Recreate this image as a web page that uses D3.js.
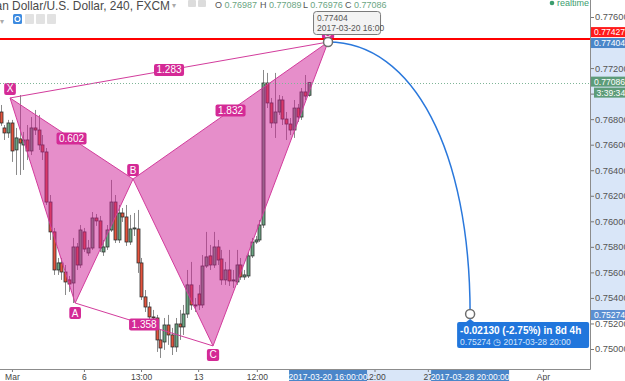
<!DOCTYPE html>
<html>
<head>
<meta charset="utf-8">
<script src="https://cdn.jsdelivr.net/npm/d3@7"></script>
<style>
  body { margin: 0; background: #fff; overflow: hidden; }
  svg { display: block; font-family: "Liberation Sans", Arial, sans-serif; }
</style>
</head>
<body>
<div id="chart"></div>
<script>
// Data: AUD/USD 4h candles [open, high, low, close]
const candles = [
  [0.76856, 0.76911, 0.76747, 0.76770],
  [0.76731, 0.76754, 0.76637, 0.76692],
  [0.76692, 0.76794, 0.76653, 0.76770],
  [0.76770, 0.76794, 0.76465, 0.76551],
  [0.76559, 0.76731, 0.76363, 0.76653],
  [0.76645, 0.76989, 0.76363, 0.76613],
  [0.76598, 0.76700, 0.76402, 0.76637],
  [0.76637, 0.76754, 0.76480, 0.76551],
  [0.76551, 0.76817, 0.76519, 0.76731],
  [0.76731, 0.76872, 0.76676, 0.76715],
  [0.76715, 0.76833, 0.76559, 0.76598],
  [0.76598, 0.76676, 0.76480, 0.76543],
  [0.76543, 0.76574, 0.76128, 0.76151],
  [0.76151, 0.76206, 0.75854, 0.75917],
  [0.75917, 0.75948, 0.75580, 0.75619],
  [0.75619, 0.75713, 0.75580, 0.75674],
  [0.75674, 0.75713, 0.75541, 0.75603],
  [0.75603, 0.75658, 0.75423, 0.75525],
  [0.75541, 0.75572, 0.75447, 0.75509],
  [0.75517, 0.75870, 0.75360, 0.75799],
  [0.75799, 0.75830, 0.75619, 0.75658],
  [0.75658, 0.75971, 0.75635, 0.75932],
  [0.75917, 0.75948, 0.75760, 0.75783],
  [0.75752, 0.75854, 0.75729, 0.75791],
  [0.75791, 0.76073, 0.75776, 0.76026],
  [0.76026, 0.76057, 0.75964, 0.76003],
  [0.76003, 0.76042, 0.75760, 0.75791],
  [0.75760, 0.75854, 0.75729, 0.75799],
  [0.75799, 0.75971, 0.75776, 0.75932],
  [0.75932, 0.76324, 0.75917, 0.76151],
  [0.76151, 0.76206, 0.75830, 0.75854],
  [0.75854, 0.76128, 0.75830, 0.76065],
  [0.76065, 0.76104, 0.75995, 0.76034],
  [0.76034, 0.76128, 0.75807, 0.75838],
  [0.75838, 0.76050, 0.75815, 0.75940],
  [0.75940, 0.76065, 0.75885, 0.75948],
  [0.75940, 0.76089, 0.75596, 0.75674],
  [0.75674, 0.75713, 0.75384, 0.75408],
  [0.75408, 0.75462, 0.75290, 0.75329],
  [0.75329, 0.75368, 0.75212, 0.75251],
  [0.75251, 0.75306, 0.75196, 0.75243],
  [0.75243, 0.75267, 0.74977, 0.75071],
  [0.75071, 0.75149, 0.74930, 0.75008],
  [0.75055, 0.75243, 0.74993, 0.75188],
  [0.75188, 0.75267, 0.75032, 0.75110],
  [0.75110, 0.75165, 0.74953, 0.75016],
  [0.75016, 0.75243, 0.74977, 0.75196],
  [0.75196, 0.75306, 0.75071, 0.75173],
  [0.75173, 0.75345, 0.75110, 0.75274],
  [0.75274, 0.75619, 0.75243, 0.75502],
  [0.75502, 0.75682, 0.75306, 0.75345],
  [0.75345, 0.75400, 0.75290, 0.75337],
  [0.75431, 0.75502, 0.75306, 0.75345],
  [0.75345, 0.75736, 0.75321, 0.75650],
  [0.75650, 0.75917, 0.75635, 0.75721],
  [0.75729, 0.75815, 0.75619, 0.75658],
  [0.75658, 0.75917, 0.75635, 0.75799],
  [0.75799, 0.75854, 0.75658, 0.75697],
  [0.75705, 0.75776, 0.75502, 0.75541],
  [0.75541, 0.75682, 0.75502, 0.75619],
  [0.75619, 0.75776, 0.75494, 0.75533],
  [0.75533, 0.75619, 0.75478, 0.75541],
  [0.75525, 0.75776, 0.75502, 0.75658],
  [0.75658, 0.75713, 0.75541, 0.75564],
  [0.75564, 0.75619, 0.75541, 0.75580],
  [0.75572, 0.75760, 0.75556, 0.75729],
  [0.75729, 0.75870, 0.75713, 0.75838],
  [0.75838, 0.75885, 0.75823, 0.75854],
  [0.75854, 0.76010, 0.75838, 0.75971],
  [0.75971, 0.77185, 0.75948, 0.77083],
  [0.77083, 0.77162, 0.76887, 0.76927],
  [0.76927, 0.76966, 0.76731, 0.76770],
  [0.76770, 0.77162, 0.76653, 0.76856],
  [0.76856, 0.76989, 0.76833, 0.76950],
  [0.76950, 0.76981, 0.76754, 0.76801],
  [0.76801, 0.76856, 0.76637, 0.76762],
  [0.76762, 0.76809, 0.76676, 0.76715],
  [0.76715, 0.76950, 0.76653, 0.76887],
  [0.76887, 0.76919, 0.76778, 0.76817],
  [0.76817, 0.77044, 0.76794, 0.77013],
  [0.77013, 0.77146, 0.76950, 0.76981],
  [0.76987, 0.77089, 0.76976, 0.77086]
];

const priceTicks = [0.750, 0.752, 0.754, 0.756, 0.758, 0.760, 0.762, 0.764, 0.766, 0.768, 0.770, 0.772, 0.774, 0.776];
const timeTickBars = [3.0, 21.9, 36.9, 51.9, 67.3, 82.0, 98.2, 112.2, 142.4];
const timeTickLabels = ["Mar", "6", "13:00", "13", "12:00", "20", "12:00", "27", "Apr"];

// XABCD pattern
const patternNames = ["X", "A", "B", "C", "D"];
const patternBars = [2.5, 19.6, 34.8, 55.8, 86.0];
const patternPrices = [0.76966, 0.75360, 0.76331, 0.75024, 0.77404];
const ratioLegs = [[0, 2], [0, 4], [2, 4], [1, 3]];
const ratioTexts = ["0.602", "1.283", "1.832", "1.358"];

// levels and forecast
const stopPrice = 0.77427;
const lastPrice = 0.77086;
const countdown = "3:39:34";
const targetBar = 123.3;
const targetPrice = 0.75274;
const startDate = "2017-03-20 16:00:00";
const targetDate = "2017-03-28 20:00:00";
const forecastText = "-0.02130 (-2.75%) in 8d 4h";
const forecastSub = "0.75274 \u25F7 2017-03-28  20:00";
const tooltipLines = ["0.77404", "2017-03-20 16:00"];

const header = "Australian Dollar/U.S. Dollar, 240, FXCM";
const ohlcKeys = ["O", "H", "L", "C"];
const ohlcVals = ["0.76987", "0.77089", "0.76976", "0.77086"];

// Dimensions
const dims = { width: 625, height: 381, plotRight: 590, plotBottom: 369 };

const svg = d3.select("#chart").append("svg")
  .attr("width", dims.width)
  .attr("height", dims.height);

const xScale = d3.scaleLinear().domain([0, 81]).range([0.5, 309]);
const yScale = d3.scaleLinear().domain([0.750, 0.776]).range([349, 17]);

svg.append("defs").append("clipPath").attr("id", "plotclip")
  .append("rect").attr("width", dims.plotRight).attr("height", dims.plotBottom);

const plot = svg.append("g").attr("clip-path", "url(#plotclip)");

// Candles
const green = "#6ba583", red = "#e5533c";
const cg = plot.append("g");
cg.selectAll("line").data(candles).join("line")
  .attr("x1", (d, i) => Math.round(xScale(i)) + 0.5)
  .attr("x2", (d, i) => Math.round(xScale(i)) + 0.5)
  .attr("y1", d => yScale(d[1]))
  .attr("y2", d => yScale(d[2]))
  .attr("stroke", "#8a8a8a");
cg.selectAll("rect").data(candles).join("rect")
  .attr("x", (d, i) => Math.round(xScale(i)) - 1)
  .attr("width", 3)
  .attr("y", d => yScale(Math.max(d[0], d[3])))
  .attr("height", d => Math.max(1, Math.abs(yScale(d[0]) - yScale(d[3]))))
  .attr("fill", d => d[3] >= d[0] ? green : red)
  .attr("stroke", "#2e2e2e")
  .attr("stroke-width", 0.8);

// Pattern
const pts = patternNames.map((n, i) => [xScale(patternBars[i]), yScale(patternPrices[i])]);
const pink = "#d23c9c";
plot.selectAll("polygon").data([[0, 1, 2], [2, 3, 4]]).join("polygon")
  .attr("points", d => d.map(k => pts[k].join(",")).join(" "))
  .attr("fill", "rgba(205,30,150,0.5)")
  .attr("stroke", pink)
  .attr("stroke-width", 1);
plot.selectAll("line.leg").data([[0, 4], [1, 3]]).join("line")
  .attr("class", "leg")
  .attr("x1", d => pts[d[0]][0]).attr("y1", d => pts[d[0]][1])
  .attr("x2", d => pts[d[1]][0]).attr("y2", d => pts[d[1]][1])
  .attr("stroke", pink).attr("stroke-width", 1);

function pinkLabel(g, x, y, text) {
  const t = g.append("text").attr("x", x).attr("y", y + 3.5)
    .attr("text-anchor", "middle").attr("font-size", 10).attr("fill", "#fff").text(text);
  const w = t.node().getComputedTextLength() + 5;
  g.insert("rect", "text:last-child").attr("x", x - w / 2).attr("y", y - 6)
    .attr("width", w).attr("height", 12).attr("rx", 2).attr("fill", "#d42a96");
}
ratioLegs.forEach((leg, i) => {
  const g = plot.append("g");
  pinkLabel(g, (pts[leg[0]][0] + pts[leg[1]][0]) / 2, (pts[leg[0]][1] + pts[leg[1]][1]) / 2, ratioTexts[i]);
});
const labelOffsets = [-9, 10, -9, 9, -9];
patternNames.forEach((n, i) => {
  pinkLabel(plot.append("g"), pts[i][0], pts[i][1] + labelOffsets[i], n);
});

// Last price line (dotted)
plot.append("line").attr("x1", 0).attr("x2", dims.plotRight)
  .attr("y1", Math.round(yScale(lastPrice)) + 0.5).attr("y2", Math.round(yScale(lastPrice)) + 0.5)
  .attr("stroke", "#7fb597").attr("stroke-dasharray", "1,2");

// Red stop line
plot.append("line").attr("x1", 0).attr("x2", dims.plotRight)
  .attr("y1", yScale(stopPrice)).attr("y2", yScale(stopPrice))
  .attr("stroke", "#ff0000").attr("stroke-width", 2);

// Forecast curve
const dx = xScale(targetBar), dy = yScale(targetPrice);
const [sx, sy] = pts[4];
plot.append("path")
  .attr("d", `M${sx},${sy} C${sx + (dx - sx) * 0.6},${sy} ${dx},${sy + (dy - sy) * 0.4} ${dx},${dy}`)
  .attr("fill", "none").attr("stroke", "#2a78dc").attr("stroke-width", 1.5);

plot.selectAll("circle").data([[sx, sy], [dx, dy]]).join("circle")
  .attr("cx", d => d[0]).attr("cy", d => d[1]).attr("r", 4.5)
  .attr("fill", "#fff").attr("stroke", "#6e6e6e").attr("stroke-width", 1.5);

// Forecast box
const fb = plot.append("g");
fb.append("rect").attr("x", dx - 13).attr("y", dy + 8).attr("width", 132).attr("height", 26)
  .attr("rx", 2).attr("fill", "#2176dc");
fb.append("path").attr("d", `M${dx - 4},${dy + 8} L${dx},${dy + 5} L${dx + 4},${dy + 8}Z`).attr("fill", "#2176dc");
fb.append("text").attr("x", dx - 10).attr("y", dy + 20).attr("font-size", 10).attr("font-weight", "bold")
  .attr("fill", "#fff").text(forecastText);
fb.append("text").attr("x", dx - 10).attr("y", dy + 31).attr("font-size", 8.5)
  .attr("fill", "#d6e6fb").text(forecastSub);

// Tooltip at D
const tt = svg.append("g");
tt.append("rect").attr("x", sx - 14.5).attr("y", 11.5).attr("width", 67).attr("height", 23).attr("rx", 3)
  .attr("fill", "#f3f3f3").attr("stroke", "#7a7a7a");
tt.selectAll("text").data(tooltipLines).join("text")
  .attr("x", sx - 11).attr("y", (d, i) => 20.5 + i * 10)
  .attr("font-size", 8.5).attr("fill", "#555").text(d => d);

// Axis backgrounds
svg.append("rect").attr("x", dims.plotRight).attr("y", yScale(patternPrices[4]))
  .attr("width", 35).attr("height", yScale(targetPrice) - yScale(patternPrices[4]))
  .attr("fill", "#d9e6f8");
svg.append("rect").attr("x", sx).attr("y", dims.plotBottom)
  .attr("width", dx - sx).attr("height", 12).attr("fill", "#d9e6f8");

// Price axis
const yAxis = d3.axisRight(yScale).tickValues(priceTicks).tickFormat(d3.format(".5f")).tickSize(4).tickPadding(1);
const yAxisGroup = svg.append("g").attr("transform", `translate(${dims.plotRight},0)`).call(yAxis);
yAxisGroup.select(".domain").remove();
yAxisGroup.selectAll("line").attr("stroke", "#777");
yAxisGroup.selectAll("text").attr("font-size", 9.3).attr("fill", "#555");

// Time axis
const xAxis = d3.axisBottom(xScale).tickValues(timeTickBars).tickFormat((d, i) => timeTickLabels[i]).tickSize(3).tickPadding(2);
const xAxisGroup = svg.append("g").attr("transform", `translate(0,${dims.plotBottom})`).call(xAxis);
xAxisGroup.select(".domain").remove();
xAxisGroup.selectAll("line").attr("stroke", "#777");
xAxisGroup.selectAll("text").attr("font-size", 8.5).attr("fill", "#444");

// Borders
svg.append("line").attr("x1", dims.plotRight + 0.5).attr("x2", dims.plotRight + 0.5)
  .attr("y1", 0).attr("y2", dims.plotBottom + 0.5).attr("stroke", "#8c8c8c");
svg.append("line").attr("x1", 0).attr("x2", dims.plotRight + 0.5)
  .attr("y1", dims.plotBottom + 0.5).attr("y2", dims.plotBottom + 0.5).attr("stroke", "#8c8c8c");

// Price labels on the axis
const priceLabels = [
  { v: stopPrice, text: d3.format(".5f")(stopPrice), fill: "#ff1a1a", shift: -7 },
  { v: patternPrices[4], text: d3.format(".5f")(patternPrices[4]), fill: "#4a86c9", shift: 1 },
  { v: lastPrice, text: d3.format(".5f")(lastPrice), fill: "#5d9c79", shift: -1 },
  { v: targetPrice, text: d3.format(".5f")(targetPrice), fill: "#5b8fd2", shift: 1 }
];
const pl = svg.append("g").selectAll("g").data(priceLabels).join("g")
  .attr("transform", d => `translate(${dims.plotRight + 1},${yScale(d.v) + d.shift})`);
pl.append("rect").attr("y", -5).attr("width", 34).attr("height", 10).attr("fill", d => d.fill);
pl.append("text").attr("x", 3).attr("y", 3.3).attr("font-size", 8.6).attr("fill", "#fff").text(d => d.text);
const cd = svg.append("g").attr("transform", `translate(${dims.plotRight + 4},${yScale(lastPrice) + 10})`);
cd.append("rect").attr("y", -5).attr("width", 31).attr("height", 10).attr("fill", "#5d9c79");
cd.append("text").attr("x", 2.5).attr("y", 3.3).attr("font-size", 8.6).attr("fill", "#fff").text(countdown);

// Date labels on the time axis
const dateLabels = [{ x: sx, text: startDate }, { x: dx, text: targetDate }];
const dl = svg.append("g").selectAll("g").data(dateLabels).join("g")
  .attr("transform", d => `translate(${d.x},${dims.plotBottom + 1})`);
dl.append("rect").attr("x", -39).attr("width", 78).attr("height", 12).attr("fill", "#4a86c9");
dl.append("text").attr("y", 9.5).attr("text-anchor", "middle").attr("font-size", 8.5).attr("fill", "#fff").text(d => d.text);

// Header
svg.append("text").attr("x", 170).attr("y", 9.5).attr("text-anchor", "end")
  .attr("font-size", 11.9).attr("fill", "#4a4a4a").text(header);
svg.append("text").attr("x", 172).attr("y", 8).attr("font-size", 8).attr("fill", "#aaa").text("\u25BE");
[188, 198].forEach(x => svg.append("rect").attr("x", x).attr("y", 0).attr("width", 8).attr("height", 7).attr("rx", 1).attr("fill", "#dcdcdc"));
const ohlcX = [215, 260, 303, 345];
ohlcKeys.forEach((k, i) => {
  const t = svg.append("text").attr("x", ohlcX[i]).attr("y", 8).attr("font-size", 9);
  t.append("tspan").attr("fill", "#555").text(k + " ");
  t.append("tspan").attr("fill", "#6ba583").text(ohlcVals[i]);
});
svg.append("text").attr("x", 0).attr("y", 24).attr("font-size", 8).attr("fill", "#aaa").text("\u25BE");
svg.append("rect").attr("x", 13).attr("y", 14).attr("width", 9).attr("height", 10).attr("rx", 1.5).attr("fill", "#3d8be0");
svg.append("circle").attr("cx", 17.5).attr("cy", 19).attr("r", 2.5).attr("fill", "none").attr("stroke", "#fff").attr("stroke-width", 1.2);
[25, 36, 47].forEach(x => svg.append("rect").attr("x", x).attr("y", 14).attr("width", 9).attr("height", 10).attr("rx", 1).attr("fill", "#e2e2e2"));
svg.append("circle").attr("cx", 552).attr("cy", 3).attr("r", 2.3).attr("fill", "#3c9d6e");
svg.append("text").attr("x", 557).attr("y", 6).attr("font-size", 9).attr("fill", "#3c9d6e").text("realtime");
</script>
</body>
</html>
